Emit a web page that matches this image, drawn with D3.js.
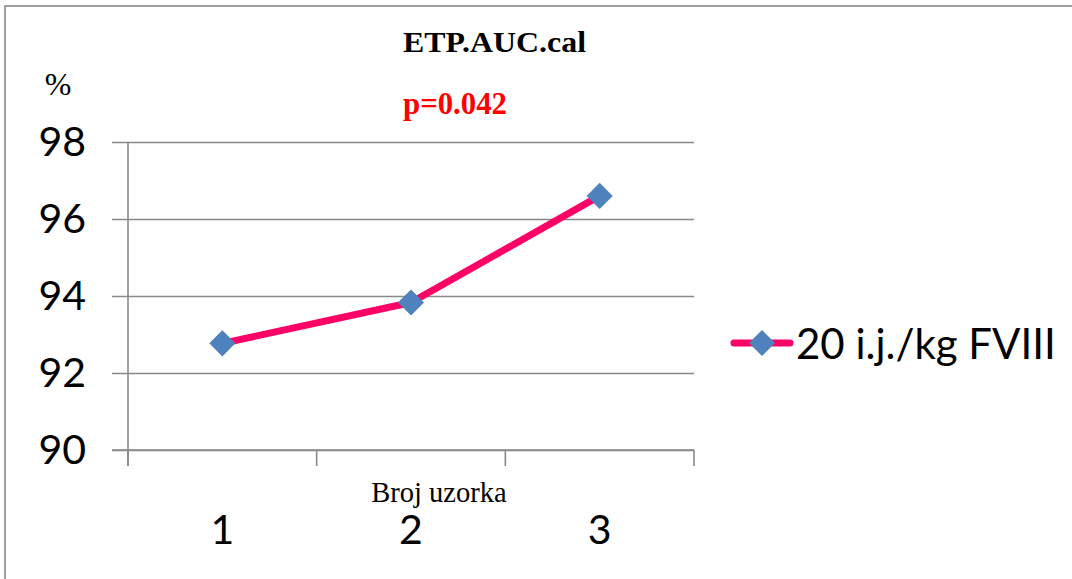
<!DOCTYPE html>
<html>
<head>
<meta charset="utf-8">
<script src="https://cdn.jsdelivr.net/npm/d3@7"></script>
<style>
  html, body { margin: 0; padding: 0; background: #fff; }
  svg { display: block; }
</style>
</head>
<body>
<svg id="chart" width="1072" height="579"></svg>
<script>
// Sample numbers along the x axis
const categories = ["1", "2", "3"];
// ETP.AUC.cal (%) for the 20 i.j./kg FVIII dose
const seriesValues = [92.77, 93.83, 96.6];
const seriesName = "20 i.j./kg FVIII";
// Value axis ticks
const yTicks = [90, 92, 94, 96, 98];

const titleText = "ETP.AUC.cal";
const pText = "p=0.042";
const unitText = "%";
const xTitle = "Broj uzorka";

const svg = d3.select("#chart");
const W = 1072, H = 579;

const plot = { left: 128, right: 694, top: 142, bottom: 450 };
const tickLen = 16;
const gridColor = "#898989";
const lineColor = "#FF0066";
const markerColor = "#4F81BD";
const sans = "Lato, 'Open Sans', sans-serif";
const serif = "'Liberation Serif', 'Times New Roman', serif";

// outer chart frame
svg.append("rect")
  .attr("x", 5).attr("y", 6)
  .attr("width", W + 10).attr("height", H + 10)
  .attr("fill", "#fff")
  .attr("stroke", "#A0A0A0").attr("stroke-width", 2);

const x = d3.scaleBand().domain(categories).range([plot.left, plot.right]).padding(0);
const y = d3.scaleLinear().domain([90, 98]).range([plot.bottom, plot.top]);

// horizontal gridlines with left tick marks
const yAxis = d3.axisLeft(y).tickValues(yTicks)
  .tickSize(-(plot.right - plot.left)).tickSizeOuter(0).tickPadding(0).tickFormat("");
const gy = svg.append("g").attr("transform", `translate(${plot.left},0)`).call(yAxis);
gy.select(".domain").remove();
gy.selectAll(".tick line")
  .attr("x1", -tickLen)
  .attr("stroke", gridColor).attr("stroke-width", 1.6);

// y tick labels
svg.append("g").selectAll("text").data(yTicks).join("text")
  .attr("x", 86).attr("y", d => y(d) + 14)
  .attr("text-anchor", "end")
  .attr("font-family", sans).attr("font-size", 41)
  .attr("fill", "#000")
  .text(d => d);

// vertical axis line
svg.append("line")
  .attr("x1", plot.left).attr("x2", plot.left)
  .attr("y1", plot.top).attr("y2", plot.bottom + tickLen)
  .attr("stroke", gridColor).attr("stroke-width", 1.6);

// category axis with boundary ticks
const boundaries = categories.map(c => x(c)).concat([x(categories[categories.length - 1]) + x.bandwidth()]);
const gx = svg.append("g");
gx.append("line")
  .attr("x1", plot.left - tickLen).attr("x2", plot.right)
  .attr("y1", plot.bottom).attr("y2", plot.bottom)
  .attr("stroke", gridColor).attr("stroke-width", 1.6);
gx.selectAll("line.tk").data(boundaries).join("line").attr("class", "tk")
  .attr("x1", d => d).attr("x2", d => d)
  .attr("y1", plot.bottom).attr("y2", plot.bottom + tickLen)
  .attr("stroke", gridColor).attr("stroke-width", 1.6);

// category labels
svg.append("g").selectAll("text").data(categories).join("text")
  .attr("x", d => x(d) + x.bandwidth() / 2)
  .attr("y", 544)
  .attr("text-anchor", "middle")
  .attr("font-family", sans).attr("font-size", 41)
  .attr("fill", "#000")
  .text(d => d);

// axis title
svg.append("text")
  .attr("x", 439).attr("y", 502)
  .attr("text-anchor", "middle")
  .attr("font-family", serif).attr("font-size", 28.5)
  .attr("fill", "#000")
  .text(xTitle);

// unit label
svg.append("text")
  .attr("x", 58).attr("y", 95)
  .attr("text-anchor", "middle")
  .attr("font-family", serif).attr("font-size", 32)
  .attr("fill", "#000")
  .text(unitText);

// chart title and p-value
svg.append("text")
  .attr("x", 403).attr("y", 52)
  .attr("font-family", serif).attr("font-weight", "bold").attr("font-size", 29)
  .attr("textLength", 183).attr("lengthAdjust", "spacingAndGlyphs")
  .attr("fill", "#000")
  .text(titleText);
svg.append("text")
  .attr("x", 403).attr("y", 114)
  .attr("font-family", serif).attr("font-weight", "bold").attr("font-size", 31)
  .attr("textLength", 104).attr("lengthAdjust", "spacingAndGlyphs")
  .attr("fill", "#FF0000")
  .text(pText);

// series line
const pts = categories.map((c, i) => [x(c) + x.bandwidth() / 2, y(seriesValues[i])]);
svg.append("path")
  .attr("d", d3.line()(pts))
  .attr("fill", "none")
  .attr("stroke", lineColor).attr("stroke-width", 7)
  .attr("stroke-linejoin", "round").attr("stroke-linecap", "round");

// diamond markers
const diamond = d3.symbol().type(d3.symbolSquare).size(340);
svg.append("g").selectAll("path").data(pts).join("path")
  .attr("d", diamond)
  .attr("transform", d => `translate(${d[0]},${d[1]}) rotate(45)`)
  .attr("fill", markerColor);

// legend
const lg = svg.append("g").attr("transform", "translate(0,343)");
lg.append("line")
  .attr("x1", 734).attr("x2", 790).attr("y1", 0).attr("y2", 0)
  .attr("stroke", lineColor).attr("stroke-width", 7).attr("stroke-linecap", "round");
lg.append("path")
  .attr("d", diamond)
  .attr("transform", "translate(762,0) rotate(45)")
  .attr("fill", markerColor);
lg.append("text")
  .attr("x", 796).attr("y", 16)
  .attr("font-family", sans).attr("font-size", 42)
  .attr("fill", "#000")
  .text(seriesName);
</script>
</body>
</html>
